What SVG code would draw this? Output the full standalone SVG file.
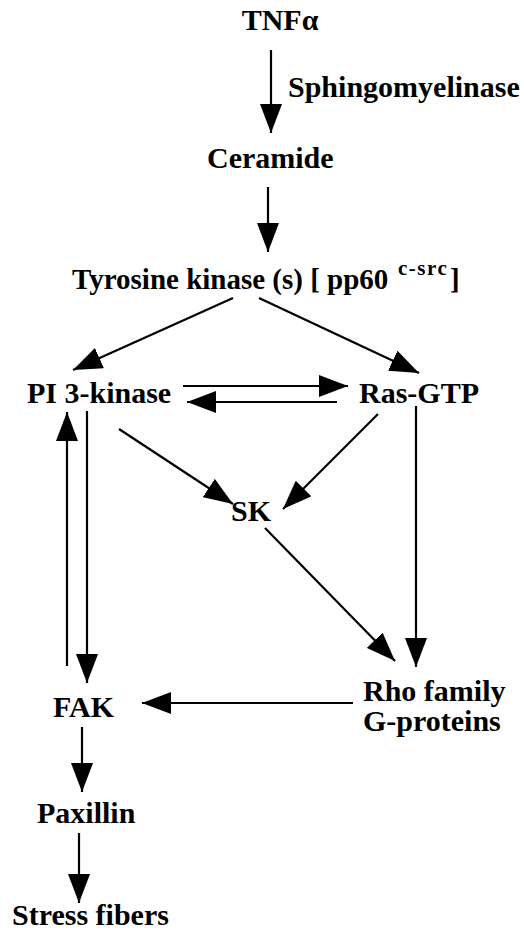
<svg xmlns="http://www.w3.org/2000/svg" width="524" height="933" viewBox="0 0 524 933">
<defs>
<marker id="ah" markerUnits="userSpaceOnUse" markerWidth="29" markerHeight="22" refX="29" refY="11" orient="auto" viewBox="0 0 29 22">
<path d="M0,0 L29,11 L0,22 z" fill="#000"/>
</marker>
<style>
text{font-family:"Liberation Serif","Times New Roman",serif;font-weight:bold;font-size:30px;fill:#000}
.c line{stroke:#000;stroke-width:2.2;marker-end:url(#ah)}
.sup{font-size:21px;letter-spacing:1.5px}
</style>
</defs>
<rect width="524" height="933" fill="#fff"/>
<g class="c" id="connectors">
<line x1="271" y1="50" x2="271" y2="133"/>
<line x1="268" y1="187" x2="268" y2="252"/>
<line x1="233" y1="298" x2="73" y2="370"/>
<line x1="259" y1="298" x2="419" y2="373"/>
<line x1="183" y1="386" x2="348" y2="386"/>
<line x1="337" y1="402" x2="187" y2="402"/>
<line x1="87" y1="411" x2="87" y2="683"/>
<line x1="67" y1="666" x2="67" y2="412"/>
<line x1="119" y1="429" x2="233" y2="504"/>
<line x1="378" y1="414" x2="283" y2="509"/>
<line x1="416" y1="406" x2="416" y2="667"/>
<line x1="265" y1="528" x2="395" y2="661"/>
<line x1="353" y1="703" x2="142" y2="703"/>
<line x1="82" y1="727" x2="82" y2="792"/>
<line x1="79" y1="833" x2="79" y2="903"/>
</g>
<g id="tnf"><text x="280" y="30" text-anchor="middle">TNFα</text></g>
<g id="smase"><text x="288" y="97">Sphingomyelinase</text></g>
<g id="ceramide"><text x="207" y="168">Ceramide</text></g>
<g id="tyrosine"><text x="72" y="289" style="font-size:29px">Tyrosine kinase (s) [ pp60 <tspan class="sup" x="398" dy="-14">c-src</tspan><tspan x="450" dy="14">]</tspan></text></g>
<g id="pi3k"><text x="27" y="403">PI 3-kinase</text></g>
<g id="ras"><text x="359" y="403">Ras-GTP</text></g>
<g id="sk"><text x="231" y="521">SK</text></g>
<g id="rho"><text x="363" y="701">Rho family</text><text x="363" y="731">G-proteins</text></g>
<g id="fak"><text x="53" y="717">FAK</text></g>
<g id="paxillin"><text x="37" y="823">Paxillin</text></g>
<g id="stress"><text x="12" y="925">Stress fibers</text></g>
</svg>
